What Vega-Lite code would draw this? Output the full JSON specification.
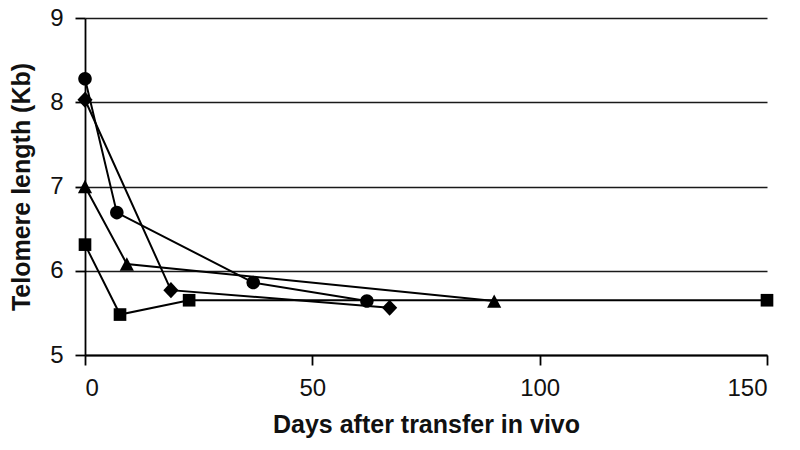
{
  "$schema": "https://vega.github.io/schema/vega-lite/v6.json",
  "width": 682,
  "height": 337,
  "autosize": "none",
  "padding": {"left": 85, "top": 18, "right": 33, "bottom": 95},
  "background": "white",
  "config": {
    "view": {"stroke": null},
    "axis": {
      "labelFont": "Liberation Sans",
      "titleFont": "Liberation Sans",
      "labelFontSize": 24,
      "titleFontSize": 25,
      "labelColor": "#111",
      "titleColor": "#111",
      "domainColor": "black",
      "tickColor": "black",
      "domainWidth": 1.8,
      "tickWidth": 1.8,
      "tickSize": 10
    }
  },
  "data": {
    "values": [
      {"series": "A", "day": 0, "length": 8.28},
      {"series": "A", "day": 7, "length": 6.69},
      {"series": "A", "day": 37, "length": 5.86},
      {"series": "A", "day": 62, "length": 5.64},
      {"series": "B", "day": 0, "length": 8.03},
      {"series": "B", "day": 18.9, "length": 5.77},
      {"series": "B", "day": 67, "length": 5.56},
      {"series": "C", "day": 0, "length": 7.0},
      {"series": "C", "day": 9.2, "length": 6.08},
      {"series": "C", "day": 90, "length": 5.64},
      {"series": "D", "day": 0, "length": 6.31},
      {"series": "D", "day": 7.7, "length": 5.48},
      {"series": "D", "day": 22.9, "length": 5.65},
      {"series": "D", "day": 150, "length": 5.65}
    ]
  },
  "encoding": {
    "x": {
      "field": "day",
      "type": "quantitative",
      "scale": {"domain": [0, 150], "nice": false, "zero": false},
      "axis": {
        "values": [0, 50, 100, 150],
        "grid": false,
        "labelPadding": 11,
        "title": "Days after transfer in vivo",
        "titleFontWeight": "bold",
        "titlePadding": 12
      }
    },
    "y": {
      "field": "length",
      "type": "quantitative",
      "scale": {"domain": [5, 9], "nice": false, "zero": false},
      "axis": {
        "values": [5, 6, 7, 8, 9],
        "grid": true,
        "gridColor": "#1a1a1a",
        "gridWidth": 1.6,
        "labelPadding": 12,
        "title": "Telomere length (Kb)",
        "titleFontWeight": "bold",
        "titlePadding": 15
      }
    }
  },
  "layer": [
    {
      "mark": {"type": "line", "color": "black", "strokeWidth": 2},
      "encoding": {"detail": {"field": "series"}}
    },
    {
      "mark": {"type": "point", "filled": true, "color": "black", "opacity": 1, "size": 160},
      "encoding": {
        "shape": {
          "field": "series",
          "scale": {
            "domain": ["A", "B", "C", "D"],
            "range": [
              "M1.07,0A1.07,1.07,0,1,1,-1.07,0A1.07,1.07,0,1,1,1.07,0Z",
              "M0,-1.27L1.2,0L0,1.27L-1.2,0Z",
              "M0,-1.05L1.12,1.05L-1.12,1.05Z",
              "M-1,-1H1V1H-1Z"
            ]
          },
          "legend": null
        }
      }
    }
  ]
}
